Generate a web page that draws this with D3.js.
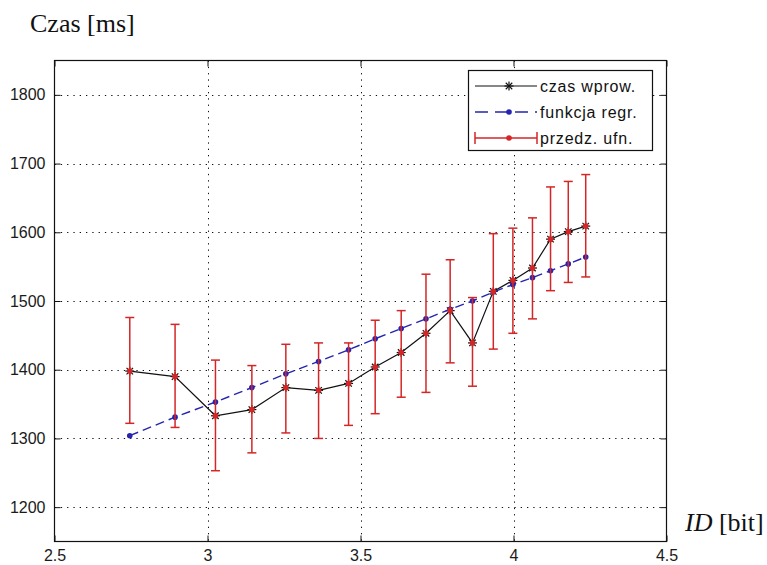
<!DOCTYPE html>
<html>
<head>
<meta charset="utf-8">
<script src="https://cdn.jsdelivr.net/npm/d3@7"></script>
<style>
  html, body { margin: 0; padding: 0; background: #fff; }
  svg { display: block; }
</style>
</head>
<body>
<svg id="chart" width="767" height="565"></svg>
<script>
// Index of difficulty [bit] for each measured condition
const idBits = [2.746, 2.894, 3.026, 3.145, 3.256, 3.363, 3.461, 3.548, 3.633,
                3.714, 3.793, 3.866, 3.934, 3.998, 4.062, 4.121, 4.179, 4.236];
// Mean input time [ms]
const czasWprow = [1398, 1390, 1333, 1342, 1374, 1370, 1380, 1404, 1425,
                   1453, 1486, 1439, 1514, 1530, 1548, 1590, 1601, 1609];
// Fitted regression line [ms]
const funkcjaRegr = [1304, 1331, 1353, 1374, 1394, 1412, 1429, 1445, 1460,
                     1474, 1488, 1500, 1513, 1524, 1534, 1544, 1554, 1564];
// Confidence interval bounds [ms]
const przedzDol = [1322, 1316, 1253, 1279, 1308, 1300, 1319, 1336, 1360,
                   1367, 1410, 1376, 1430, 1453, 1474, 1515, 1527, 1535];
const przedzGora = [1476, 1466, 1414, 1406, 1437, 1439, 1439, 1472, 1486,
                    1539, 1560, 1505, 1598, 1606, 1621, 1666, 1674, 1684];

const xTicks = [2.5, 3, 3.5, 4, 4.5];
const yTicks = [1200, 1300, 1400, 1500, 1600, 1700, 1800];
const legendLabels = ["czas wprow.", "funkcja regr.", "przedz. ufn."];

const svg = d3.select("#chart");
const pLeft = 54.5, pRight = 666.5, pTop = 60.5, pBottom = 541.5;

const x = d3.scaleLinear().domain([2.5, 4.5]).range([pLeft, pRight]);
const y = d3.scaleLinear().domain([1150, 1850]).range([pBottom, pTop]);

const RED = "#d42626", BLUE = "#2424b0", GRID_DASH = "1.3,5";
const tickFont = "'Liberation Sans', Arial, sans-serif";

// Dotted grid
const grid = svg.append("g").attr("stroke", "#111").attr("stroke-width", 1)
  .attr("stroke-dasharray", GRID_DASH);
grid.selectAll("line.v").data(xTicks.filter(t => t > 2.5 && t < 4.5)).join("line")
  .attr("class", "v")
  .attr("x1", d => Math.round(x(d)) + 0.5).attr("x2", d => Math.round(x(d)) + 0.5)
  .attr("y1", pTop).attr("y2", pBottom);
grid.selectAll("line.h").data(yTicks).join("line")
  .attr("class", "h")
  .attr("x1", pLeft).attr("x2", pRight)
  .attr("y1", d => Math.round(y(d)) + 0.5).attr("y2", d => Math.round(y(d)) + 0.5);

// Axes with inward ticks on all four sides
function styleAxis(g) {
  g.select(".domain").remove();
  g.selectAll(".tick line").attr("stroke", "#111");
  g.selectAll(".tick text").attr("fill", "#1a1a1a")
    .style("font-family", tickFont).style("font-size", "16px");
}
svg.append("g").attr("transform", `translate(0,${pBottom})`)
  .call(d3.axisBottom(x).tickValues(xTicks).tickSize(-6).tickPadding(8).tickFormat(d3.format("")))
  .call(styleAxis);
svg.append("g").attr("transform", `translate(0,${pTop})`)
  .call(d3.axisTop(x).tickValues(xTicks).tickSize(-6).tickFormat(""))
  .call(styleAxis);
svg.append("g").attr("transform", `translate(${pLeft},0)`)
  .call(d3.axisLeft(y).tickValues(yTicks).tickSize(-6).tickPadding(9).tickFormat(d3.format("d")))
  .call(styleAxis);
svg.append("g").attr("transform", `translate(${pRight},0)`)
  .call(d3.axisRight(y).tickValues(yTicks).tickSize(-6).tickFormat(""))
  .call(styleAxis);

svg.append("rect").attr("x", pLeft).attr("y", pTop)
  .attr("width", pRight - pLeft).attr("height", pBottom - pTop)
  .attr("fill", "none").attr("stroke", "#111").attr("stroke-width", 1.2);

// Asterisk marker
function star(g, cx, cy, r, color) {
  const d = r * 0.72;
  const segs = [[-r, 0, r, 0], [0, -r, 0, r], [-d, -d, d, d], [-d, d, d, -d]];
  segs.forEach(s => g.append("line")
    .attr("x1", cx + s[0]).attr("y1", cy + s[1]).attr("x2", cx + s[2]).attr("y2", cy + s[3])
    .attr("stroke", color).attr("stroke-width", 1.2));
}

const pts = idBits.map((v, i) => ({
  id: v, t: czasWprow[i], r: funkcjaRegr[i], lo: przedzDol[i], hi: przedzGora[i]
}));

// Measured times: black line with asterisks
svg.append("path").datum(pts)
  .attr("d", d3.line().x(d => x(d.id)).y(d => y(d.t)))
  .attr("fill", "none").attr("stroke", "#111").attr("stroke-width", 1.2);
const stars = svg.append("g");
pts.forEach(d => star(stars, x(d.id), y(d.t), 4.5, "#111"));

// Regression: blue dashed line with dots
svg.append("path").datum(pts)
  .attr("d", d3.line().x(d => x(d.id)).y(d => y(d.r)))
  .attr("fill", "none").attr("stroke", BLUE).attr("stroke-width", 1.4)
  .attr("stroke-dasharray", "9,5");
svg.append("g").selectAll("circle").data(pts).join("circle")
  .attr("cx", d => x(d.id)).attr("cy", d => y(d.r)).attr("r", 2.8).attr("fill", BLUE);

// Confidence intervals: red error bars with caps and dots
const eb = svg.append("g").attr("stroke", RED).attr("stroke-width", 1.5);
const cap = 4.5;
eb.selectAll("line.bar").data(pts).join("line").attr("class", "bar")
  .attr("x1", d => x(d.id)).attr("x2", d => x(d.id))
  .attr("y1", d => y(d.lo)).attr("y2", d => y(d.hi));
eb.selectAll("line.top").data(pts).join("line").attr("class", "top")
  .attr("x1", d => x(d.id) - cap).attr("x2", d => x(d.id) + cap)
  .attr("y1", d => y(d.hi)).attr("y2", d => y(d.hi));
eb.selectAll("line.bot").data(pts).join("line").attr("class", "bot")
  .attr("x1", d => x(d.id) - cap).attr("x2", d => x(d.id) + cap)
  .attr("y1", d => y(d.lo)).attr("y2", d => y(d.lo));
svg.append("g").selectAll("circle").data(pts).join("circle")
  .attr("cx", d => x(d.id)).attr("cy", d => y(d.t)).attr("r", 2.8).attr("fill", RED);

// Legend
const lg = svg.append("g");
lg.append("rect").attr("x", 468.5).attr("y", 70.5).attr("width", 184).attr("height", 80)
  .attr("fill", "#fff").attr("stroke", "#111").attr("stroke-width", 1.2);
const rowY = [86, 112, 138];
const lx1 = 475, lx2 = 537, lm = 509;
// row 1
lg.append("line").attr("x1", lx1).attr("x2", lx2).attr("y1", rowY[0]).attr("y2", rowY[0])
  .attr("stroke", "#111").attr("stroke-width", 1.2);
star(lg, lm, rowY[0], 4.5, "#111");
// row 2
lg.append("line").attr("x1", lx1).attr("x2", lx2).attr("y1", rowY[1]).attr("y2", rowY[1])
  .attr("stroke", BLUE).attr("stroke-width", 1.4).attr("stroke-dasharray", "13,7");
lg.append("circle").attr("cx", lm).attr("cy", rowY[1]).attr("r", 2.8).attr("fill", BLUE);
// row 3
lg.append("line").attr("x1", lx1).attr("x2", lx2).attr("y1", rowY[2]).attr("y2", rowY[2])
  .attr("stroke", RED).attr("stroke-width", 1.5);
[lx1, lx2].forEach(cx => lg.append("line").attr("x1", cx).attr("x2", cx)
  .attr("y1", rowY[2] - 6).attr("y2", rowY[2] + 6).attr("stroke", RED).attr("stroke-width", 1.5));
lg.append("circle").attr("cx", lm).attr("cy", rowY[2]).attr("r", 2.8).attr("fill", RED);
lg.selectAll("text").data(legendLabels).join("text")
  .attr("x", 540).attr("y", (d, i) => rowY[i]).attr("dy", "0.35em")
  .attr("fill", "#111").style("font-family", tickFont).style("font-size", "16px")
  .style("letter-spacing", "0.8px").text(d => d);

// Axis titles
svg.append("text").attr("x", 30).attr("y", 32)
  .style("font-family", "'Liberation Serif', 'Times New Roman', serif").style("font-size", "26px")
  .attr("fill", "#111").text("Czas [ms]");
const xl = svg.append("text").attr("x", 685).attr("y", 531)
  .style("font-family", "'Liberation Serif', 'Times New Roman', serif").style("font-size", "26px")
  .attr("fill", "#111");
xl.append("tspan").style("font-style", "italic").text("ID");
xl.append("tspan").text(" [bit]");
</script>
</body>
</html>
